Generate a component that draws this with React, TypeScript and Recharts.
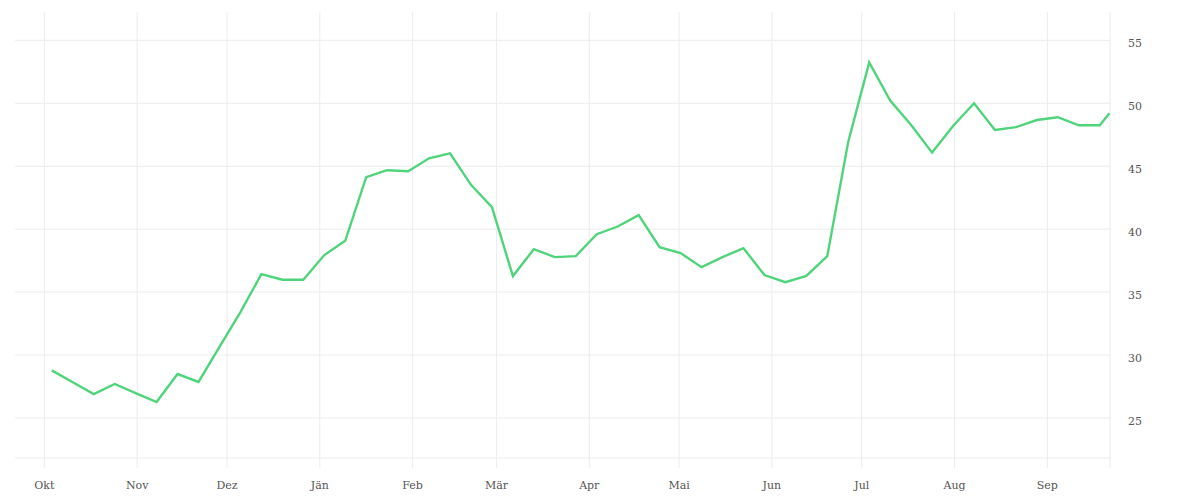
import React from "react";
import { LineChart, Line, XAxis, YAxis, CartesianGrid } from "recharts";

const weekDates: string[] = [
  "2018-10-03T12:00:00Z", "2018-10-10T12:00:00Z", "2018-10-17T12:00:00Z", "2018-10-24T12:00:00Z", "2018-10-31T12:00:00Z",
  "2018-11-07T12:00:00Z", "2018-11-14T12:00:00Z", "2018-11-21T12:00:00Z", "2018-11-28T12:00:00Z",
  "2018-12-05T12:00:00Z", "2018-12-12T12:00:00Z", "2018-12-19T12:00:00Z", "2018-12-26T12:00:00Z",
  "2019-01-02T12:00:00Z", "2019-01-09T12:00:00Z", "2019-01-16T12:00:00Z", "2019-01-23T12:00:00Z", "2019-01-30T12:00:00Z",
  "2019-02-06T12:00:00Z", "2019-02-13T12:00:00Z", "2019-02-20T12:00:00Z", "2019-02-27T12:00:00Z",
  "2019-03-06T12:00:00Z", "2019-03-13T12:00:00Z", "2019-03-20T12:00:00Z", "2019-03-27T12:00:00Z",
  "2019-04-03T12:00:00Z", "2019-04-10T12:00:00Z", "2019-04-17T12:00:00Z", "2019-04-24T12:00:00Z",
  "2019-05-01T12:00:00Z", "2019-05-08T12:00:00Z", "2019-05-15T12:00:00Z", "2019-05-22T12:00:00Z", "2019-05-29T12:00:00Z",
  "2019-06-05T12:00:00Z", "2019-06-12T12:00:00Z", "2019-06-19T12:00:00Z", "2019-06-26T12:00:00Z",
  "2019-07-03T12:00:00Z", "2019-07-10T12:00:00Z", "2019-07-17T12:00:00Z", "2019-07-24T12:00:00Z", "2019-07-31T12:00:00Z",
  "2019-08-07T12:00:00Z", "2019-08-14T12:00:00Z", "2019-08-21T12:00:00Z", "2019-08-28T12:00:00Z",
  "2019-09-04T12:00:00Z", "2019-09-11T12:00:00Z", "2019-09-18T12:00:00Z",
  "2019-09-21T18:00:00Z",
];

const values: number[] = [
  28.78, 27.84, 26.9, 27.7, 26.98,
  26.27, 28.49, 27.86, 30.65,
  33.41, 36.43, 35.98, 35.98,
  37.94, 39.07, 44.13, 44.68, 44.6,
  45.63, 46.03, 43.52, 41.75,
  36.27, 38.41, 37.78, 37.86,
  39.6, 40.21, 41.11, 38.57,
  38.1, 36.98, 37.78, 38.49, 36.35,
  35.79, 36.29, 37.86, 46.95,
  53.25, 50.21, 48.28, 46.08, 48.2,
  50.0, 47.88, 48.1, 48.67,
  48.89, 48.25, 48.25,
  49.21,
];

const monthTickDates: string[] = [
  "2018-10-01T00:00:00Z", "2018-11-01T00:00:00Z", "2018-12-01T00:00:00Z", "2019-01-01T00:00:00Z",
  "2019-02-01T00:00:00Z", "2019-03-01T00:00:00Z", "2019-04-01T00:00:00Z", "2019-05-01T00:00:00Z",
  "2019-06-01T00:00:00Z", "2019-07-01T00:00:00Z", "2019-08-01T00:00:00Z", "2019-09-01T00:00:00Z",
];
const monthLabels: string[] = ["Okt", "Nov", "Dez", "Jän", "Feb", "Mär", "Apr", "Mai", "Jun", "Jul", "Aug", "Sep"];

const yTicks: number[] = [25, 30, 35, 40, 45, 50, 55];

const domainStart = Date.parse("2018-09-21T05:00:00Z");
const domainEnd = Date.parse("2019-09-21T22:00:00Z");

const data = weekDates.map((d, i) => ({ t: Date.parse(d), v: values[i] }));
const monthTicks = monthTickDates.map((d) => Date.parse(d));
const xTicks = [...monthTicks, domainEnd];
const labelFor = (t: number) => {
  const i = monthTicks.indexOf(t);
  return i >= 0 ? monthLabels[i] : "";
};

const FONT = "'DejaVu Serif', serif";
const GRID = "#ececec";

const XTick = (props: any) => {
  const { x, y, payload } = props;
  return (
    <text x={x} y={y} dy={21} textAnchor="middle" fontFamily={FONT} fontSize={11} fill="#555">
      {labelFor(payload.value)}
    </text>
  );
};

const YTick = (props: any) => {
  const { x, y, payload } = props;
  return (
    <text x={x} y={y} dy={7} textAnchor="start" fontFamily={FONT} fontSize={11} fill="#555">
      {payload.value}
    </text>
  );
};

export default function App() {
  return (
    <div style={{ width: 1184, height: 484 }}>
      <LineChart width={1184} height={484} data={data} margin={{ top: 4, right: 22, bottom: 0, left: 7 }}>
        <CartesianGrid stroke={GRID} strokeWidth={1} syncWithTicks />
        <XAxis
          dataKey="t"
          type="number"
          domain={[domainStart, domainEnd]}
          ticks={xTicks}
          interval={0}
          height={34}
          tickSize={10}
          tickMargin={0}
          tickLine={{ stroke: GRID }}
          axisLine={{ stroke: GRID }}
          tick={<XTick />}
          allowDataOverflow
        />
        <YAxis
          orientation="right"
          type="number"
          domain={[21.82, 57.25]}
          ticks={yTicks}
          interval={0}
          width={60}
          tickSize={0}
          tickMargin={18}
          tickLine={false}
          axisLine={false}
          tick={<YTick />}
          allowDataOverflow
        />
        <Line
          type="linear"
          dataKey="v"
          stroke="#4fd47c"
          strokeWidth={2.4}
          dot={false}
          activeDot={false}
          isAnimationActive={false}
        />
      </LineChart>
    </div>
  );
}
